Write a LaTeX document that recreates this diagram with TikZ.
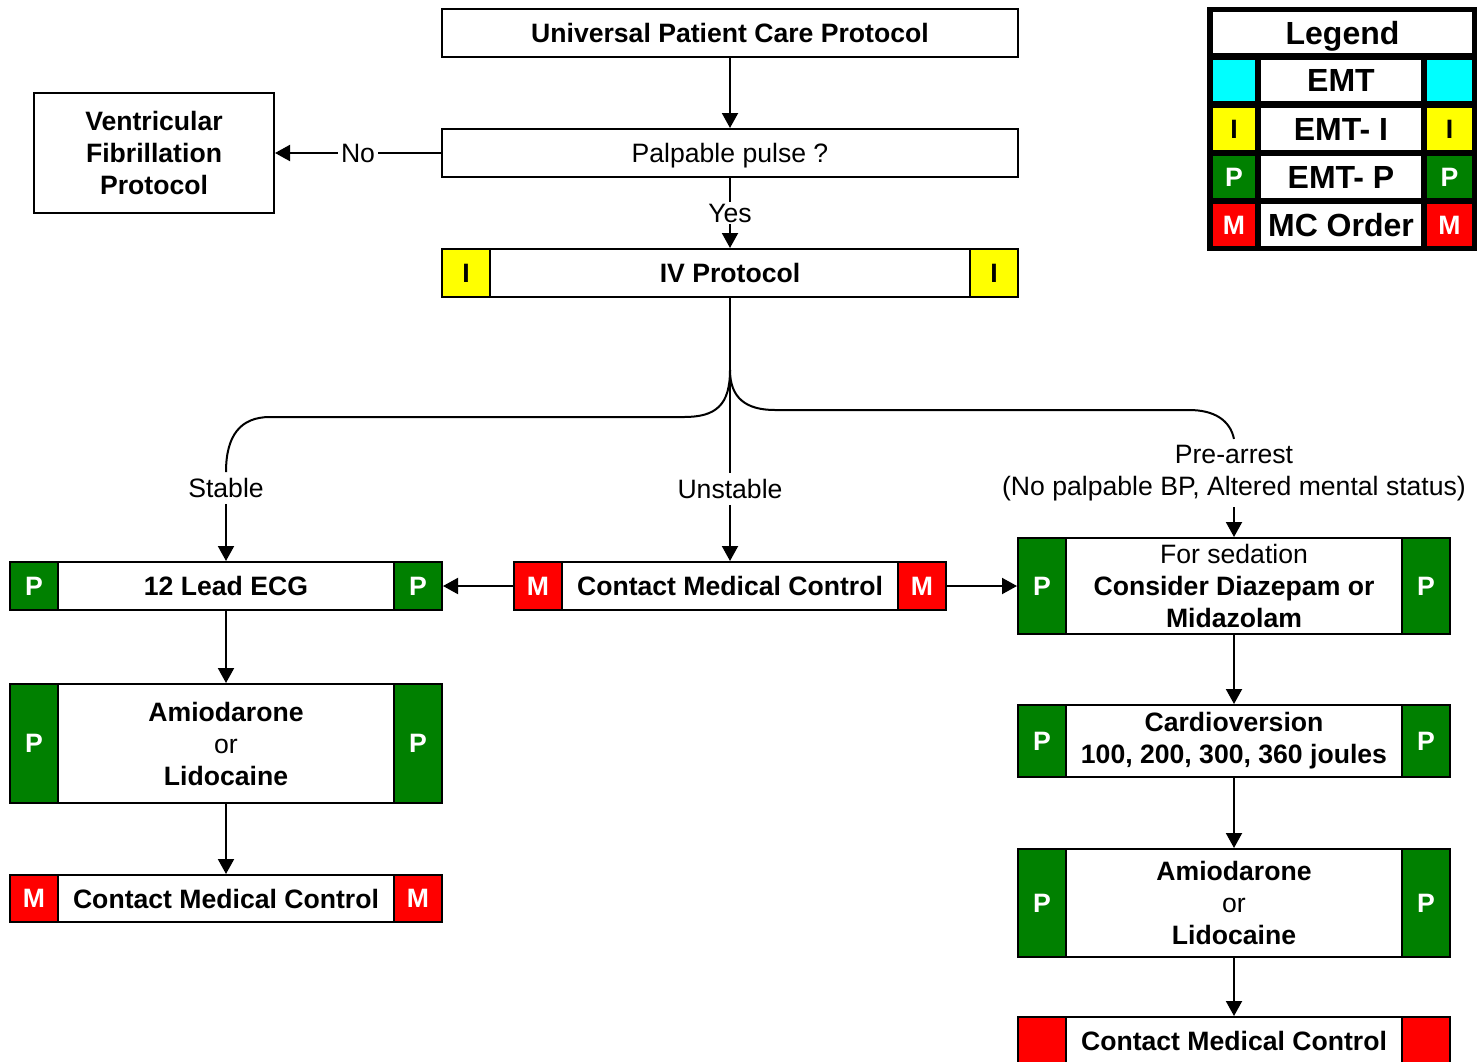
\documentclass[tikz,border=0pt]{standalone}
\usepackage{fontspec}
\setmainfont{Liberation Sans}
\usetikzlibrary{arrows.meta}
\definecolor{pgreen}{HTML}{008000}
\definecolor{pred}{HTML}{FF0000}
\definecolor{pyellow}{HTML}{FFFF00}
\definecolor{pcyan}{HTML}{00FFFF}
\newcommand\mainfs{\fontsize{26.6}{32}\selectfont}
\newcommand\legfs{\fontsize{32}{38}\selectfont}
\newcommand\legsq{\fontsize{26.6}{32}\selectfont}
\tikzset{
  box/.style={draw, line width=2pt, fill=white, inner sep=0pt, align=center, font=\mainfs},
  sidesq/.style={draw, line width=2pt, minimum width=48pt, inner sep=0pt, font=\mainfs\bfseries},
  lbl/.style={font=\mainfs, inner xsep=3pt, inner ysep=6pt, fill=white, align=center},
  arr/.style={line width=2pt, -{Triangle[length=15pt,width=16pt]}},
  conn/.style={line width=2pt},
  legcell/.style={inner sep=0pt, font=\legfs\bfseries, fill=white},
  legsqc/.style={inner sep=0pt, font=\legsq\bfseries},
}
\newcommand\mksides[5]{%
  \node[sidesq, fill=#3, text=#4, minimum height=#2, anchor=north west] (#1Lsq) at (#1.north west) {#5};
  \node[sidesq, fill=#3, text=#4, minimum height=#2, anchor=north east] (#1Rsq) at (#1.north east) {#5};}
\begin{document}
\begin{tikzpicture}[x=1pt,y=-1pt]
\useasboundingbox (0,0) rectangle (1484,1061);
\clip (0,0) rectangle (1484,1061);
\fill[white] (0,0) rectangle (1484,1061);

% main column
\node[box, minimum width=576, minimum height=48, font=\mainfs\bfseries] (upc) at (730,33) {Universal Patient Care Protocol};
\node[box, minimum width=576, minimum height=48, text height=19pt, text depth=0pt] (pp) at (730,153) {Palpable pulse ?};
\node[box, minimum width=240, minimum height=120, font=\mainfs\bfseries] (vf) at (154,153) {Ventricular\\Fibrillation\\Protocol};
\node[box, minimum width=576, minimum height=48, font=\mainfs\bfseries] (iv) at (730,273) {IV Protocol};
\mksides{iv}{48}{pyellow}{black}{I}

% branch labels
\coordinate (split) at (730,370);
\node[lbl] (stable) at (226,488) {Stable};
\node[lbl] (unstable) at (730,489) {Unstable};
\node[lbl] (pre) at (1234,473) {Pre-arrest\\(No palpable BP, Altered mental status)};

% left column
\node[box, minimum width=432, minimum height=48, font=\mainfs\bfseries] (ecg) at (226,586) {12 Lead ECG};
\mksides{ecg}{48}{pgreen}{white}{P}
\node[box, minimum width=432, minimum height=119] (amioA) at (226,743.5) {\textbf{Amiodarone}\\or\\\textbf{Lidocaine}};
\mksides{amioA}{119}{pgreen}{white}{P}
\node[box, minimum width=432, minimum height=47, font=\mainfs\bfseries] (cmcA) at (226,898.5) {Contact Medical Control};
\mksides{cmcA}{47}{pred}{white}{M}

% middle
\node[box, minimum width=432, minimum height=48, font=\mainfs\bfseries] (cmc) at (730,586) {Contact Medical Control};
\mksides{cmc}{48}{pred}{white}{M}

% right column
\node[box, minimum width=432, minimum height=96] (sed) at (1234,586) {For sedation\\\textbf{Consider Diazepam or}\\\textbf{Midazolam}};
\mksides{sed}{96}{pgreen}{white}{P}
\node[box, minimum width=432, minimum height=72, font=\mainfs\bfseries] (cardio) at (1234,741) {Cardioversion\\100, 200, 300, 360 joules};
\mksides{cardio}{72}{pgreen}{white}{P}
\node[box, minimum width=432, minimum height=108] (amioB) at (1234,903) {\textbf{Amiodarone}\\or\\\textbf{Lidocaine}};
\mksides{amioB}{108}{pgreen}{white}{P}
\node[box, minimum width=432, minimum height=48, font=\mainfs\bfseries] (cmcB) at (1234,1041) {Contact Medical Control};
\mksides{cmcB}{48}{pred}{white}{}

% connectors
\draw[arr] (upc.south) -- (pp.north);
\draw[arr] (pp.west) -- node[lbl, inner ysep=2pt] (nolbl) {No} (vf.east);
\draw[arr] (pp.south) -- node[lbl, inner ysep=2pt] (yeslbl) {Yes} (iv.north);
\draw[conn] (iv.south) -- (unstable.north);
\draw[conn] (split) .. controls (730,405) and (716,417) .. (684,417) -- (270,417) .. controls (240,417) and (226,436) .. (stable.north);
\draw[conn] (split) .. controls (730,398) and (746,410) .. (775,410) -- (1189,410) .. controls (1214,410) and (1230,420) .. (pre.north);
\draw[arr] (stable.south) -- (ecg.north);
\draw[arr] (unstable.south) -- (cmc.north);
\draw[arr] (pre.south) -- (sed.north);
\draw[arr] (cmc.west) -- (ecg.east);
\draw[arr] (cmc.east) -- (sed.west);
\draw[arr] (ecg.south) -- (amioA.north);
\draw[arr] (amioA.south) -- (cmcA.north);
\draw[arr] (sed.south) -- (cardio.north);
\draw[arr] (cardio.south) -- (amioB.north);
\draw[arr] (amioB.south) -- (cmcB.north);

% legend
\fill[black] (1207,7) rectangle (1477,251);
\node[legcell, minimum width=259, minimum height=41, text height=23pt, text depth=0pt] (legT) at (1342.5,32.5) {Legend};
\node[legcell, minimum width=160, minimum height=41] (legEMT) at (1341,80.5) {EMT};
\node[legsqc, fill=pcyan, minimum width=42, minimum height=41] (legEMTl) at (1234,80.5) {};
\node[legsqc, fill=pcyan, minimum width=45, minimum height=41] (legEMTr) at (1449.5,80.5) {};
\node[legcell, minimum width=160, minimum height=42] (legI) at (1341,129) {EMT- I};
\node[legsqc, fill=pyellow, minimum width=42, minimum height=42] (legIl) at (1234,129) {I};
\node[legsqc, fill=pyellow, minimum width=45, minimum height=42] (legIr) at (1449.5,129) {I};
\node[legcell, minimum width=160, minimum height=42] (legP) at (1341,177) {EMT- P};
\node[legsqc, fill=pgreen, text=white, minimum width=42, minimum height=42] (legPl) at (1234,177) {P};
\node[legsqc, fill=pgreen, text=white, minimum width=45, minimum height=42] (legPr) at (1449.5,177) {P};
\node[legcell, minimum width=160, minimum height=42] (legM) at (1341,225) {MC Order};
\node[legsqc, fill=pred, text=white, minimum width=42, minimum height=42] (legMl) at (1234,225) {M};
\node[legsqc, fill=pred, text=white, minimum width=45, minimum height=42] (legMr) at (1449.5,225) {M};
\end{tikzpicture}
\end{document}
